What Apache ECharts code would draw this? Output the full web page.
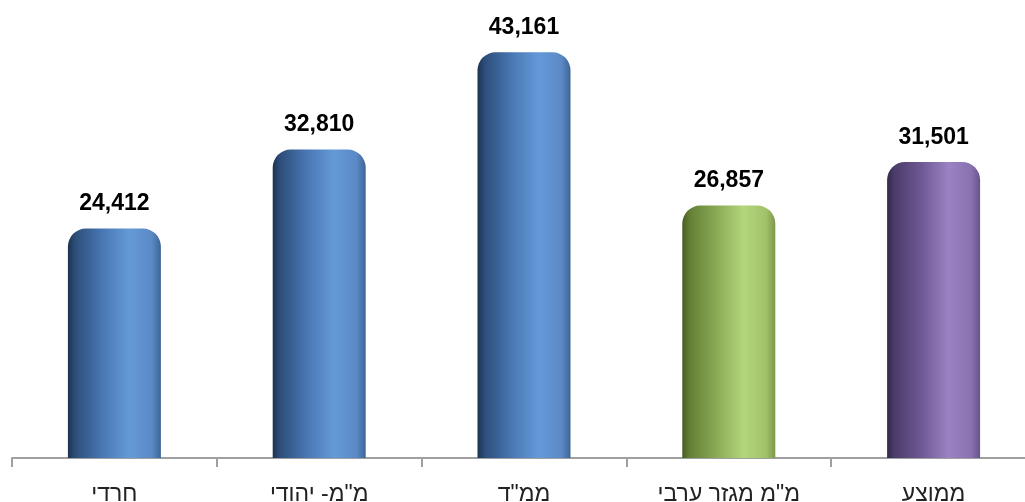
<!DOCTYPE html>
<html>
<head>
<meta charset="utf-8">
<script src="https://cdn.jsdelivr.net/npm/echarts@6/dist/echarts.min.js"></script>
<style>
body { margin: 0; background: #fff; }
#chart { width: 1025px; height: 502px; }
</style>
</head>
<body>
<div id="chart"></div>
<script>
var categories = ['חרדי', 'מ"מ- יהודי', 'ממ"ד', 'מ"מ מגזר ערבי', 'ממוצע'];
var values = [24412, 32810, 43161, 26857, 31501];
var barTone = ['blue', 'blue', 'blue', 'green', 'purple'];

// cylinder look: dark left edge, light band right of centre
var tones = {
    blue: ['#1d3350', '#2d4e7a', '#4a79b5', '#6499d8', '#5b8ac6', '#3e6596'],
    green: ['#475d22', '#647f35', '#8cac57', '#b3d57b', '#a2c26a', '#7c974a'],
    purple: ['#33284a', '#4b3c69', '#6f5a96', '#9b82c3', '#8a72b1', '#67548c']
};

function cylinder(name) {
    var c = tones[name];
    return new echarts.graphic.LinearGradient(0, 0, 1, 0, [
        {offset: 0, color: c[0]},
        {offset: 0.08, color: c[1]},
        {offset: 0.38, color: c[2]},
        {offset: 0.66, color: c[3]},
        {offset: 0.9, color: c[4]},
        {offset: 1, color: c[5]}
    ]);
}

function fmt(v) {
    return v.toString().replace(/\B(?=(\d{3})+(?!\d))/g, ',');
}

var chart = echarts.init(document.getElementById('chart'));
var option = {
    animation: false,
    grid: {left: 12, width: 1024, top: 35, bottom: 44, outerBoundsMode: 'none', containLabel: false},
    xAxis: {
        type: 'category',
        data: categories,
        axisLine: {lineStyle: {color: '#a0a0a0', width: 2}},
        axisTick: {show: true, alignWithLabel: false, length: 9, lineStyle: {color: '#a0a0a0', width: 2}},
        axisLabel: {
            margin: 25,
            fontSize: 23,
            color: '#222',
            fontFamily: 'Arial, "Liberation Sans", sans-serif'
        }
    },
    yAxis: {
        type: 'value',
        min: 0,
        max: 45000,
        show: false,
        splitLine: {show: false}
    },
    series: [{
        type: 'bar',
        barWidth: 93,
        data: values.map(function (v, i) {
            return {value: v, itemStyle: {color: cylinder(barTone[i])}};
        }),
        itemStyle: {borderRadius: [18, 18, 0, 0]},
        label: {
            show: true,
            position: 'top',
            distance: 13,
            fontSize: 23,
            fontWeight: 'bold',
            color: '#000',
            fontFamily: 'Arial, "Liberation Sans", sans-serif',
            formatter: function (p) { return fmt(p.value); }
        }
    }]
};
chart.setOption(option);
</script>
</body>
</html>
